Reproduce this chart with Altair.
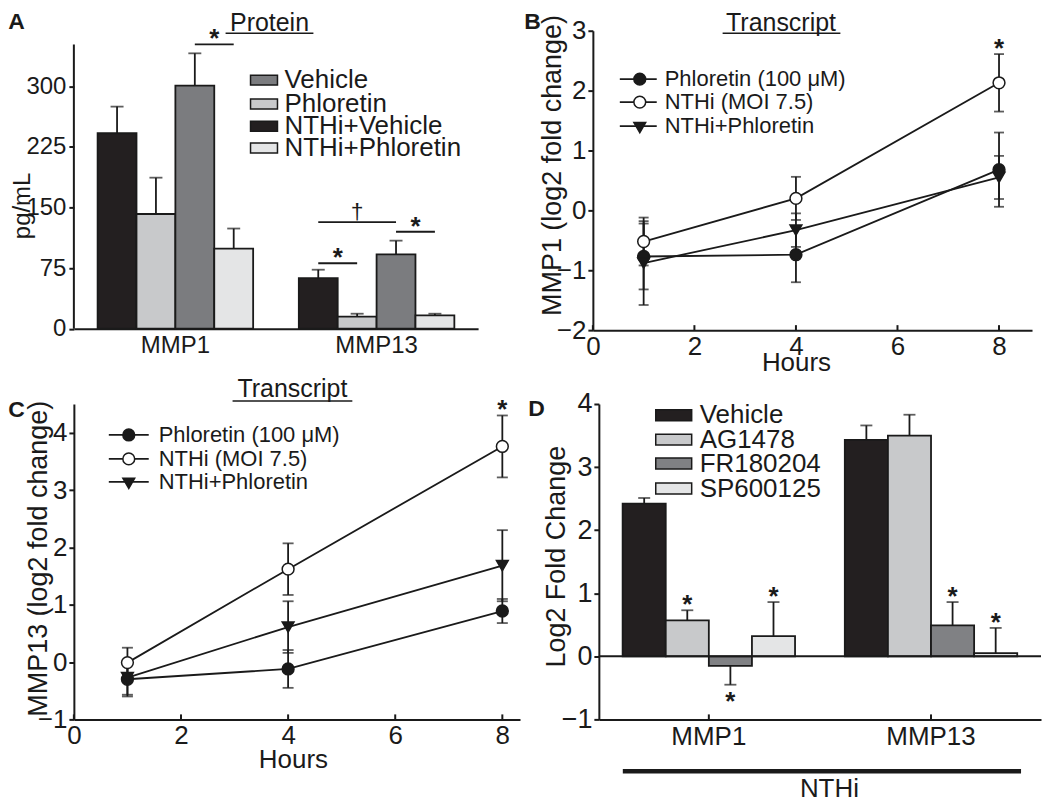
import altair as alt
import pandas as pd

FONT = "Liberation Sans"
INK = "#1a1a1a"

# ---------------- Panel A (Protein) ----------------
genes = ["MMP1", "MMP13"]
a_conditions = ["NTHi+Vehicle", "Phloretin", "Vehicle", "NTHi+Phloretin"]   # bar order
a_legend = ["Vehicle", "Phloretin", "NTHi+Vehicle", "NTHi+Phloretin"]       # legend order
a_colors = ["#7b7c7f", "#c8c9cb", "#231f20", "#e4e5e6"]
a_mmp1 = [242, 142, 301, 99]
a_mmp1_err = [33, 45, 40, 25]
a_mmp13 = [62.5, 15, 92, 16.5]
a_mmp13_err = [10.5, 3.5, 17, 2]
a_yticks = [0, 75, 150, 225, 300]
a_axis_top = 352
a_br_gene = ["MMP1", "MMP13", "MMP13", "MMP13"]
a_br_from = ["Vehicle", "NTHi+Vehicle", "NTHi+Vehicle", "Vehicle"]
a_br_to = ["NTHi+Phloretin", "Vehicle", "Phloretin", "NTHi+Phloretin"]
a_br_y = [352, 132, 81, 120]
a_br_sym = ["*", "†", "*", "*"]
a_br_star_cond = ["Vehicle", "Phloretin", "NTHi+Vehicle", "Vehicle"]
a_br_star_shift = [0.5, 0.0, 0.5, 0.5]

# ---------------- Panels B / C (Transcript) ----------------
hours = [1, 4, 8]
series = ["Phloretin (100 μM)", "NTHi (MOI 7.5)", "NTHi+Phloretin"]
series_shape = ["circle", "circle", "triangle-down"]
series_fill = [INK, "white", INK]
b_phl = [-0.77, -0.74, 0.68]
b_phl_err = [0.55, 0.46, 0.62]
b_nthi = [-0.52, 0.20, 2.13]
b_nthi_err = [0.40, 0.36, 0.48]
b_np = [-0.88, -0.33, 0.55]
b_np_err = [0.70, 0.28, 0.36]
b_xticks = [0, 2, 4, 6, 8]
b_yticks = [-2, -1, 0, 1, 2, 3]
b_star_x = [8]
b_star_y = [2.61]

c_phl = [-0.30, -0.12, 0.89]
c_phl_err = [0.30, 0.33, 0.21]
c_nthi = [-0.01, 1.62, 3.76]
c_nthi_err = [0.26, 0.45, 0.54]
c_np = [-0.27, 0.61, 1.68]
c_np_err = [0.30, 0.45, 0.62]
c_xticks = [0, 2, 4, 6, 8]
c_yticks = [-1, 0, 1, 2, 3, 4]
c_star_x = [8]
c_star_y = [4.30]

# ---------------- Panel D ----------------
d_treat = ["Vehicle", "AG1478", "FR180204", "SP600125"]
d_colors = ["#231f20", "#c8c9cb", "#808184", "#e4e5e6"]
d_mmp1 = [2.42, 0.57, -0.15, 0.32]
d_mmp1_err = [0.09, 0.16, 0.30, 0.54]
d_mmp13 = [3.43, 3.50, 0.49, 0.05]
d_mmp13_err = [0.23, 0.33, 0.37, 0.40]
d_mmp1_star = ["", "*", "*", "*"]
d_mmp13_star = ["", "", "*", "*"]
d_yticks = [-1, 0, 1, 2, 3, 4]


def txt(label, x, y, size, **kw):
    return alt.Chart(pd.DataFrame({"label": [label]})).mark_text(
        font=FONT, fontSize=size, color=INK, **kw
    ).encode(x=alt.value(x), y=alt.value(y), text="label:N")


def hline(x1, x2, y, width=1.6, opacity=1):
    return alt.Chart(pd.DataFrame({"a": [0]})).mark_rule(
        color=INK, strokeWidth=width, opacity=opacity).encode(
        x=alt.value(x1), x2=alt.value(x2), y=alt.value(y)
    )


def bar_legend(names, colors, x0, x1, ys, h, tx, size):
    layers = []
    for n, col, y in zip(names, colors, ys):
        df = pd.DataFrame({"label": [n]})
        layers.append(alt.Chart(df).mark_rect(fill=col, stroke=INK, strokeWidth=1.5).encode(
            x=alt.value(x0), x2=alt.value(x1), y=alt.value(y - h / 2), y2=alt.value(y + h / 2)))
        layers.append(alt.Chart(df).mark_text(font=FONT, fontSize=size, color=INK, align="left",
                                              baseline="middle").encode(
            x=alt.value(tx), y=alt.value(y), text="label:N"))
    return layers


def line_legend(x0, x1, xm, ys, tx, size):
    layers = []
    for n, shp, fil, y in zip(series, series_shape, series_fill, ys):
        df = pd.DataFrame({"label": [n]})
        layers.append(alt.Chart(df).mark_rule(color=INK, strokeWidth=1.8).encode(
            x=alt.value(x0), x2=alt.value(x1), y=alt.value(y)))
        layers.append(alt.Chart(df).mark_point(shape=shp, fill=fil, stroke=INK, strokeWidth=1.5,
                                               size=140, opacity=1).encode(
            x=alt.value(xm), y=alt.value(y + (1.5 if shp == "triangle-down" else 0))))
        layers.append(alt.Chart(df).mark_text(font=FONT, fontSize=size, color=INK, align="left",
                                              baseline="middle").encode(
            x=alt.value(tx), y=alt.value(y), text="label:N"))
    return layers


# ================= Panel A =================
WA, HA = 405, 298.5
a_ymax = 369.0
rows = []
for g, vals, errs in [("MMP1", a_mmp1, a_mmp1_err), ("MMP13", a_mmp13, a_mmp13_err)]:
    for c, v, e in zip(a_conditions, vals, errs):
        rows.append({"gene": g, "cond": c, "value": v, "top": v + e})
dfA = pd.DataFrame(rows)

xA = alt.Scale(domain=genes, paddingInner=0.227, paddingOuter=0.118)
oA = alt.Scale(domain=a_conditions, paddingInner=0, paddingOuter=0)
yA = alt.Scale(domain=[0, a_ymax], nice=False)
cA = alt.Scale(domain=a_legend, range=a_colors)
barwA = (WA / (2 - 0.227 + 0.236)) * (1 - 0.227) / 4

baseA = alt.Chart(dfA).encode(
    x=alt.X("gene:N", scale=xA, axis=alt.Axis(title=None, ticks=False, labelAngle=0,
                                               labelFontSize=24, labelPadding=5)),
    xOffset=alt.XOffset("cond:N", scale=oA),
)
barsA = baseA.mark_bar(stroke=INK, strokeWidth=1.8).encode(
    y=alt.Y("value:Q", scale=yA, axis=alt.Axis(values=a_yticks, domain=False, tickSize=5,
                                               labelFontSize=24, labelPadding=3, title=None)),
    fill=alt.Fill("cond:N", scale=cA, legend=None),
)
errA = baseA.mark_rule(color=INK, strokeWidth=1.8).encode(
    y=alt.Y("value:Q", scale=yA), y2="top:Q")
capA = baseA.mark_tick(color=INK, thickness=1.8, size=13, orient="horizontal").encode(
    y=alt.Y("top:Q", scale=yA))
axisA = alt.Chart(pd.DataFrame({"a": [0]})).mark_rule(color=INK, strokeWidth=2).encode(
    x=alt.value(0), y=alt.datum(0, scale=yA), y2=alt.datum(a_axis_top))

br_rows = []
for i, (g, f, t, y) in enumerate(zip(a_br_gene, a_br_from, a_br_to, a_br_y)):
    br_rows.append({"id": i, "gene": g, "cond": f, "y": y})
    br_rows.append({"id": i, "gene": g, "cond": t, "y": y})
brA = alt.Chart(pd.DataFrame(br_rows)).mark_line(color=INK, strokeWidth=1.8).encode(
    x=alt.X("gene:N", scale=xA),
    xOffset=alt.XOffset("cond:N", scale=oA),
    y=alt.Y("y:Q", scale=yA),
    detail="id:N",
)
starsA = []
for g, c, y, s, sh in zip(a_br_gene, a_br_star_cond, a_br_y, a_br_sym, a_br_star_shift):
    df = pd.DataFrame({"gene": [g], "cond": [c], "y": [y], "sym": [s]})
    if s == "†":
        mk = dict(fontSize=23, dy=-3)
    else:
        mk = dict(fontSize=26, fontWeight="bold", dy=3)
    starsA.append(alt.Chart(df).mark_text(font=FONT, color=INK, baseline="alphabetic",
                                          dx=sh * barwA, **mk).encode(
        x=alt.X("gene:N", scale=xA),
        xOffset=alt.XOffset("cond:N", scale=oA),
        y=alt.Y("y:Q", scale=yA),
        text="sym:N"))

panelA = alt.layer(
    barsA, errA, capA, axisA, brA, *starsA,
    *bar_legend(a_legend, a_colors, 177, 204, [49.5, 73.5, 95.8, 117.5], 10, 211, 26),
    txt("Protein", 196, 0, 25, baseline="alphabetic"),
    hline(152, 240, 2.5),
    txt("A", -57.5, -9, 23, fontWeight="bold", baseline="middle"),
    txt("pg/mL", -51, 175.5, 24, angle=270, baseline="middle"),
).properties(width=WA, height=HA)


# ================= Panels B / C =================
def long_df(phl, phl_e, nthi, nthi_e, np_, np_e):
    out = []
    for s, vals, errs in zip(series, [phl, nthi, np_], [phl_e, nthi_e, np_e]):
        for h, v, e in zip(hours, vals, errs):
            out.append({"series": s, "hour": h, "value": v, "lo": v - e, "hi": v + e})
    return pd.DataFrame(out)


def line_panel(df, W, H, xdom, ydom, xticks, yticks, star_x, star_y, cap):
    xs = alt.Scale(domain=xdom, nice=False, zero=False)
    ys = alt.Scale(domain=ydom, nice=False, zero=False)
    shape_s = alt.Scale(domain=series, range=series_shape)
    fill_s = alt.Scale(domain=series, range=series_fill)
    base = alt.Chart(df)
    lines = base.mark_line(color=INK, strokeWidth=1.8).encode(
        x=alt.X("hour:Q", scale=xs, axis=alt.Axis(values=xticks, ticks=False, labelFontSize=26,
                                                  labelPadding=3, title=None, labelFlush=False,
                                                  format="d")),
        y=alt.Y("value:Q", scale=ys, axis=alt.Axis(values=yticks, tickSize=5, labelFontSize=26,
                                                   labelPadding=2, title=None, format="d")),
        detail="series:N",
    )
    ebar = base.mark_rule(color=INK, strokeWidth=1.8).encode(
        x=alt.X("hour:Q", scale=xs), y=alt.Y("lo:Q", scale=ys), y2="hi:Q")
    cap_lo = base.mark_tick(color=INK, thickness=1.8, size=cap, orient="horizontal").encode(
        x=alt.X("hour:Q", scale=xs), y=alt.Y("lo:Q", scale=ys))
    cap_hi = base.mark_tick(color=INK, thickness=1.8, size=cap, orient="horizontal").encode(
        x=alt.X("hour:Q", scale=xs), y=alt.Y("hi:Q", scale=ys))
    pts = base.mark_point(stroke=INK, strokeWidth=1.5, size=140, opacity=1).encode(
        x=alt.X("hour:Q", scale=xs), y=alt.Y("value:Q", scale=ys),
        shape=alt.Shape("series:N", scale=shape_s, legend=None),
        fill=alt.Fill("series:N", scale=fill_s, legend=None),
    )
    ticks_in = alt.Chart(pd.DataFrame({"hour": xticks})).mark_rule(color=INK, strokeWidth=2).encode(
        x=alt.X("hour:Q", scale=xs), y=alt.value(H - 5), y2=alt.value(H))
    star = alt.Chart(pd.DataFrame({"hour": star_x, "value": star_y, "s": ["*"] * len(star_x)})).mark_text(
        font=FONT, fontSize=26, fontWeight="bold", color=INK, baseline="alphabetic", dy=3).encode(
        x=alt.X("hour:Q", scale=xs), y=alt.Y("value:Q", scale=ys), text="s:N")
    return [lines, ebar, cap_lo, cap_hi, pts, ticks_in, star]


WB, HB = 440, 300
dfB = long_df(b_phl, b_phl_err, b_nthi, b_nthi_err, b_np, b_np_err)
panelB = alt.layer(
    *line_panel(dfB, WB, HB, [0, 8.65], [-2, 3], b_xticks, b_yticks, b_star_x, b_star_y, 10),
    *line_legend(27, 64, 47, [48.5, 71.5, 95.5], 72, 22),
    txt("Transcript", 188.5, 0, 25, baseline="alphabetic"),
    hline(130, 248, 2.5),
    hline(0, 10, -22, width=1, opacity=0),
    txt("B", -60.5, -9, 23, fontWeight="bold", baseline="middle"),
    txt("MMP1 (log2 fold change)", -40, 135, 27, angle=270, baseline="middle"),
    txt("Hours", 204, 332.5, 26, baseline="middle"),
).properties(width=WB, height=HB)

WC, HC = 447, 316
dfC = long_df(c_phl, c_phl_err, c_nthi, c_nthi_err, c_np, c_np_err)
panelC = alt.layer(
    *line_panel(dfC, WC, HC, [0, 8.33], [-1, 4.5], c_xticks, c_yticks, c_star_x, c_star_y, 11),
    *line_legend(35, 75, 55, [31, 55, 78], 85, 22),
    txt("Transcript", 219, -7, 25, baseline="alphabetic"),
    hline(159, 279, -3),
    txt("C", -57.5, 6.3, 23, fontWeight="bold", baseline="middle"),
    txt("MMP13 (log2 fold change)", -35, 155, 27, angle=270, baseline="middle"),
    txt("Hours", 220, 357, 26, baseline="middle"),
).properties(width=WC, height=HC)

# ================= Panel D =================
WD, HD = 443, 316
rows = []
for g, vals, errs, stars in [("MMP1", d_mmp1, d_mmp1_err, d_mmp1_star),
                             ("MMP13", d_mmp13, d_mmp13_err, d_mmp13_star)]:
    for t, v, e, s in zip(d_treat, vals, errs, stars):
        rows.append({"gene": g, "treat": t, "value": v,
                     "end": v + e if v >= 0 else v - e, "star": s, "neg": bool(v < 0)})
dfD = pd.DataFrame(rows)
xD = alt.Scale(domain=genes, paddingInner=0.224, paddingOuter=0.107)
oD = alt.Scale(domain=d_treat, paddingInner=0, paddingOuter=0)
yD = alt.Scale(domain=[-1, 4], nice=False)
cD = alt.Scale(domain=d_treat, range=d_colors)

baseD = alt.Chart(dfD).encode(
    x=alt.X("gene:N", scale=xD, axis=alt.Axis(title=None, ticks=False, labelAngle=0,
                                               labelFontSize=26, labelPadding=4)),
    xOffset=alt.XOffset("treat:N", scale=oD),
)
barsD = baseD.mark_bar(stroke=INK, strokeWidth=1.8).encode(
    y=alt.Y("value:Q", scale=yD, axis=alt.Axis(values=d_yticks, tickSize=5, labelFontSize=27,
                                               labelPadding=2, title=None, format="d")),
    fill=alt.Fill("treat:N", scale=cD, legend=None),
)
errD = baseD.mark_rule(color=INK, strokeWidth=1.8).encode(
    y=alt.Y("value:Q", scale=yD), y2="end:Q")
capD = baseD.mark_tick(color=INK, thickness=1.8, size=12, orient="horizontal").encode(
    y=alt.Y("end:Q", scale=yD))
zeroD = alt.Chart(pd.DataFrame({"a": [0]})).mark_rule(color=INK, strokeWidth=2).encode(
    y=alt.datum(0, scale=yD))
starUp = baseD.mark_text(font=FONT, fontSize=26, fontWeight="bold", color=INK,
                         baseline="alphabetic", dy=3).encode(
    y=alt.Y("end:Q", scale=yD), text="star:N"
).transform_filter("datum.star != '' && !datum.neg")
starDn = baseD.mark_text(font=FONT, fontSize=26, fontWeight="bold", color=INK,
                         baseline="alphabetic", dy=25).encode(
    y=alt.Y("end:Q", scale=yD), text="star:N"
).transform_filter("datum.star != '' && datum.neg")
ticksD = alt.Chart(pd.DataFrame({"gene": genes})).mark_rule(color=INK, strokeWidth=2).encode(
    x=alt.X("gene:N", scale=xD), y=alt.value(HD - 5), y2=alt.value(HD))

panelD = alt.layer(
    barsD, errD, capD, zeroD, starUp, starDn, ticksD,
    *bar_legend(d_treat, d_colors, 57, 93, [11.3, 35.7, 59.7, 84.7], 11, 101, 26),
    hline(24, 423, 368, width=4.5),
    txt("NTHi", 231, 386, 26, baseline="middle"),
    txt("D", -62.5, 5.5, 23, fontWeight="bold", baseline="middle"),
    txt("Log2 Fold Change", -42, 153, 27, angle=270, baseline="middle"),
).properties(width=WD, height=HD)

indep = dict(fill="independent", shape="independent", xOffset="independent")
row1 = alt.hconcat(panelA, panelB, spacing=115, bounds="flush").resolve_scale(**indep)
row2 = alt.hconcat(panelC, panelD, spacing=79, bounds="flush").resolve_scale(**indep)

chart = alt.vconcat(row1, row2, spacing=1, padding=0).resolve_scale(**indep).configure_view(
    stroke=None
).configure_axis(
    domainColor=INK, domainWidth=2, tickColor=INK, tickWidth=2, labelColor=INK,
    labelFont=FONT, titleFont=FONT, grid=False,
).configure_text(font=FONT)

chart.save("out.html", embed_options={"renderer": "svg", "actions": False})
